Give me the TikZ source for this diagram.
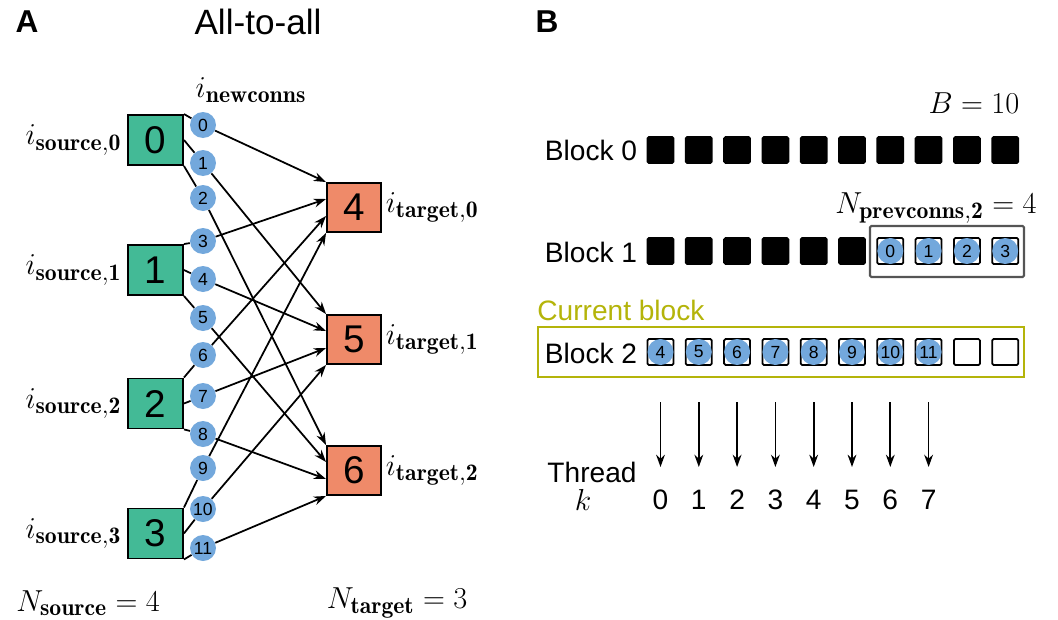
\documentclass[tikz,border=0pt]{standalone}
\usepackage{fontspec}
\newfontfamily\arial{Liberation Sans}
\usetikzlibrary{calc,arrows.meta}
\DeclareMathSizes{16}{16}{13.5}{10}
\definecolor{srcgreen}{RGB}{67,186,150}
\definecolor{tgtred}{RGB}{239,138,105}
\definecolor{connblue}{RGB}{115,168,220}
\definecolor{curolive}{RGB}{180,180,10}
\definecolor{boxgrey}{RGB}{85,85,85}
\tikzset{
  srcbox/.style={draw=black, line width=1.1pt, fill=srcgreen, minimum width=1.1cm, minimum height=1.0cm, inner sep=0pt, font=\arial\fontsize{22}{26}\selectfont},
  tgtbox/.style={draw=black, line width=1.1pt, fill=tgtred, minimum width=1.08cm, minimum height=0.98cm, inner sep=0pt, font=\arial\fontsize{22}{26}\selectfont},
  conn/.style={circle, fill=connblue, minimum size=0.52cm, inner sep=0pt, font=\arial\fontsize{10}{12}\selectfont},
  link/.style={line width=1pt},
  arr/.style={line width=1pt, -{Stealth[length=7pt,width=5pt]}},
  sqfull/.style={draw=black, fill=black, line width=1pt, rounded corners=0.8pt, minimum size=0.52cm, inner sep=0pt},
  sqempty/.style={draw=black, fill=white, line width=1pt, rounded corners=0.8pt, minimum size=0.52cm, inner sep=0pt},
  lbl/.style={font=\fontsize{16}{19}\selectfont, inner sep=1pt},
  sans/.style={font=\arial\fontsize{16}{19}\selectfont, inner sep=0pt},
  panel/.style={font=\arial\bfseries\fontsize{18}{21}\selectfont, inner sep=0pt}
}
\begin{document}
\begin{tikzpicture}[x=0.02cm,y=-0.02cm]
\useasboundingbox (0,0) rectangle (1058,619);

% ---------- Panel A ----------
\node[panel] (pA) at (27,22) {A};
\node[font=\arial\fontsize{20}{24}\selectfont, inner sep=0pt] (title) at (258,22) {All-to-all};

\node[srcbox] (s0) at (155.5,140) {0};
\node[srcbox] (s1) at (155.5,270) {1};
\node[srcbox] (s2) at (155.5,403.5) {2};
\node[srcbox] (s3) at (155.5,533.5) {3};

\node[tgtbox] (t0) at (354,207.5) {4};
\node[tgtbox] (t1) at (354,339.5) {5};
\node[tgtbox] (t2) at (354,470.5) {6};

\foreach \i/\y in {0/125,1/163,2/198,3/241,4/279,5/318,6/355,7/396,8/434,9/468,10/509,11/548}
  \node[conn] (c\i) at (203,\y) {\i};

% source -> connection links
\foreach \s/\a/\b/\c in {0/0/1/2,1/3/4/5,2/6/7/8,3/9/10/11}{
  \draw[link] (s\s.north east) -- (c\a);
  \draw[link] (s\s.east) -- (c\b);
  \draw[link] (s\s.south east) -- (c\c);
}
% connection -> target arrows
\foreach \i/\t/\f in {0/0/0,3/0/1,6/0/2,9/0/3,1/1/0,4/1/1,7/1/2,10/1/3,2/2/0,5/2/1,8/2/2,11/2/3}
  \draw[arr] (c\i) -- ($(t\t.north west)!\f/3!(t\t.south west)$);

\node[lbl, anchor=east] (ls0) at ([xshift=-2pt]s0.west) {$i_{\mathbf{source,0}}$};
\node[lbl, anchor=east] (ls1) at ([xshift=-2pt]s1.west) {$i_{\mathbf{source,1}}$};
\node[lbl, anchor=east] (ls2) at ([xshift=-2pt]s2.west) {$i_{\mathbf{source,2}}$};
\node[lbl, anchor=east] (ls3) at ([xshift=-2pt]s3.west) {$i_{\mathbf{source,3}}$};

\node[lbl, anchor=west] (lt0) at ([xshift=1pt]t0.east) {$i_{\mathbf{target,0}}$};
\node[lbl, anchor=west] (lt1) at ([xshift=1pt]t1.east) {$i_{\mathbf{target,1}}$};
\node[lbl, anchor=west] (lt2) at ([xshift=1pt]t2.east) {$i_{\mathbf{target,2}}$};

\node[lbl] (lnew) at (251,90) {$i_{\mathbf{newconns}}$};
\node[lbl] (nsrc) at (88,603) {$N_{\mathbf{source}}=4$};
\node[lbl] (ntgt) at (397,603) {$N_{\mathbf{target}}=3$};

% ---------- Panel B ----------
\node[panel] (pB) at (547,22) {B};
\node[lbl] (bval) at (974,103) {$B=10$};

\node[sans] (b0) at (591,150) {Block 0};
\node[sans] (b1) at (591,252) {Block 1};
\node[sans] (b2) at (591,353) {Block 2};

% row 0
\foreach \k in {0,...,9}
  \node[sqfull] (r0\k) at (660.5+38.3*\k,150) {};
% row 1
\foreach \k in {0,...,5}
  \node[sqfull] (r1\k) at (660.5+38.3*\k,251) {};
\foreach \k/\n in {6/0,7/1,8/2,9/3}{
  \node[sqempty] (r1\k) at (660.5+38.3*\k,251) {};
  \node[conn] (p\n) at (r1\k) {\n};
}
% row 2
\foreach \k/\n in {0/4,1/5,2/6,3/7,4/8,5/9,6/10,7/11}{
  \node[sqempty] (r2\k) at (660.5+38.3*\k,352) {};
  \node[conn] (q\n) at (r2\k) {\n};
}
\foreach \k in {8,9}
  \node[sqempty] (r2\k) at (660.5+38.3*\k,352) {};

\draw[boxgrey, line width=1.2pt, rounded corners=0.8pt] (870,226) rectangle (1024,277);
\node[lbl] (nprev) at (936,208) {$N_{\mathbf{prevconns,2}}=4$};

\draw[curolive, line width=1.2pt] (538,327) rectangle (1024,377);
\node[sans, anchor=west, text=curolive] (cur) at (537,310) {Current block};

% threads
\foreach \k in {0,...,7}{
  \coordinate (a\k) at (660.5+38.3*\k,402);
  \coordinate (e\k) at (660.5+38.3*\k,467);
  \draw[arr] (a\k) -- (e\k);
  \node[sans] (th\k) at (660.5+38.3*\k,500) {\k};
}
\node[sans] (thr) at (592,472) {Thread};
\node[lbl] (kk) at (583,500) {$k$};
\end{tikzpicture}
\end{document}
